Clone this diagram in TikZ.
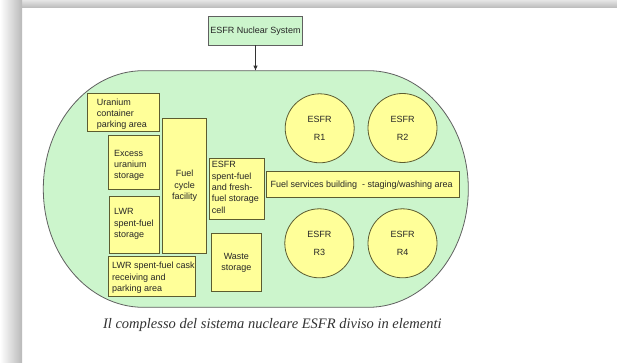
\documentclass[tikz,border=0pt]{standalone}
\usepackage{fontspec}
\setmainfont{Liberation Serif}
\setsansfont{Liberation Sans}
\usetikzlibrary{arrows.meta}
\definecolor{mint}{HTML}{CCF5CC}
\definecolor{pale}{HTML}{FFFF99}
\definecolor{olivedge}{HTML}{5C5C30}
\definecolor{grayedge}{HTML}{606060}
\begin{document}
\begin{tikzpicture}[x=1pt,y=-1pt,
  ybox/.style={draw=olivedge, fill=pale, line width=0.8pt, inner sep=0pt},
  gbox/.style={draw=grayedge, fill=mint, line width=0.8pt, inner sep=0pt},
  reactor/.style={draw=olivedge, fill=pale, line width=0.8pt, circle, minimum size=69pt, inner sep=0pt,
     align=center, font=\sffamily\fontsize{9}{18}\selectfont, text=black!85},
  lbl/.style={font=\sffamily\fontsize{9}{11.3}\selectfont, align=left, inner sep=0pt, anchor=west, text=black!85},
  clbl/.style={font=\sffamily\fontsize{9}{11.3}\selectfont, align=center, text=black!85},
  stad/.style={draw=grayedge, fill=mint, line width=0.8pt}]
\useasboundingbox (0,0) rectangle (617,363);
\fill[white] (0,0) rectangle (617,363);
% frame shadows
\shade[top color=gray!20, bottom color=gray!55] (0,0) rectangle (617,8);
\shade[left color=white, right color=gray!55] (0,0) rectangle (22,363);
% top system box
\node[gbox, clbl, minimum width=94.4pt, minimum height=28.3pt] (sys) at (255.5,30.85) {ESFR Nuclear System};
% stadium
\draw[stad] (143.3,70.7) -- (368.3,70.7)
  arc[start angle=-90, end angle=90, x radius=100, y radius=118.3]
  -- (143.3,307.3)
  arc[start angle=90, end angle=270, x radius=100, y radius=118.3] -- cycle;
\coordinate (stadtop) at (255.5,70.7);
\draw[black!80, line width=0.8pt, -{Latex[length=5pt,width=4.5pt]}] (sys.south) -- (stadtop);
% boxes
\node[ybox, minimum width=71.3pt, minimum height=37.7pt] (uca) at (123.35,112.15) {};
\node[lbl] (ucat) at (96.7,114) {Uranium\\container\\parking area};
\node[ybox, minimum width=50.7pt, minimum height=53.6pt] (eus) at (133.65,162.5) {};
\node[lbl] (eust) at (114,165.3) {Excess\\uranium\\storage};
\node[ybox, minimum width=50pt, minimum height=57.3pt] (lws) at (134.3,224.65) {};
\node[lbl] (lwst) at (114,224) {LWR\\spent-fuel\\storage};
\node[ybox, minimum width=87.4pt, minimum height=40.7pt] (lwc) at (152,276.35) {};
\node[lbl] (lwct) at (112,277.7) {LWR spent-fuel cask\\receiving and\\parking area};
\node[ybox, clbl, minimum width=44pt, minimum height=135pt] (fcf) at (184.7,185.8) {Fuel\\cycle\\facility};
\node[ybox, minimum width=54.7pt, minimum height=61pt] (esc) at (236.65,188.8) {};
\node[lbl] (esct) at (211.7,187.5) {ESFR\\spent-fuel\\and fresh-\\fuel storage\\cell};
\node[ybox, clbl, minimum width=50.7pt, minimum height=58.4pt] (was) at (236.35,262.5) {Waste\\storage};
\node[ybox, minimum width=193.3pt, minimum height=26pt] (fsb) at (363.05,184.7) {};
\node[lbl] (fsbt) at (270.4,184.7) {Fuel services building \ - staging/washing area};
% reactors
\node[reactor] (r1) at (319.7,128.3) {ESFR\\R1};
\node[reactor] (r2) at (402.5,128) {ESFR\\R2};
\node[reactor] (r3) at (319.3,243.3) {ESFR\\R3};
\node[reactor] (r4) at (402.5,243.3) {ESFR\\R4};
% caption
\node[font=\itshape\fontsize{14.5}{16}\selectfont, text=black!80, inner sep=0pt] (cap) at (272.3,325) {Il complesso del sistema nucleare ESFR diviso in elementi};
\end{tikzpicture}
\end{document}
